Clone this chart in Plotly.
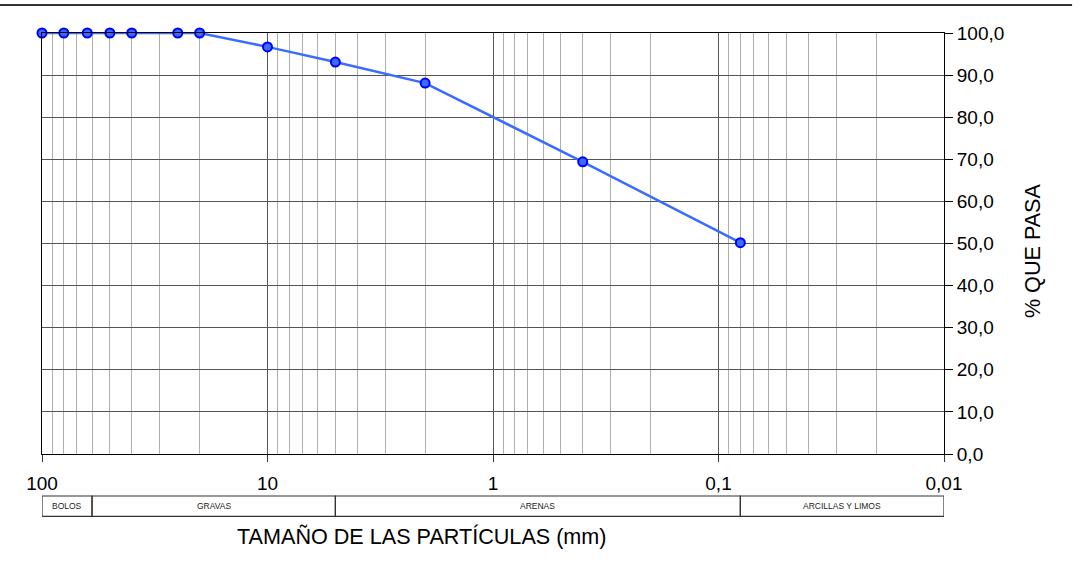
import plotly.graph_objects as go
import math

# Data
sizes_mm = [100, 80, 63, 50, 40, 25, 20, 10, 5, 2, 0.4, 0.08]
pct_passing = [100, 100, 100, 100, 100, 100, 100, 96.7, 93.1, 88.1, 69.4, 50.2]

x_tickvals = [100, 10, 1, 0.1, 0.01]
x_ticktext = ["100", "10", "1", "0,1", "0,01"]

class_bounds = [100, 60, 5, 0.08, 0.01]
class_names = ["BOLOS", "GRAVAS", "ARENAS", "ARCILLAS Y LIMOS"]

FONT = "Liberation Sans, Arial, sans-serif"
NARROW = "Liberation Sans Narrow, Arial Narrow, Liberation Sans, Arial, sans-serif"

fig = go.Figure()
fig.add_trace(go.Scatter(
    x=sizes_mm, y=pct_passing, mode="lines+markers",
    line=dict(color="#3a6cff", width=2.5),
    marker=dict(size=9, color="#3a6cff", line=dict(color="#0000ff", width=2)),
    cliponaxis=False, showlegend=False,
))

shapes = []
# top border line across the page
shapes.append(dict(type="line", xref="paper", yref="paper",
                   x0=-0.047, x1=1.142, y0=1.0665, y1=1.0665,
                   line=dict(color="#333333", width=2)))
# classification table
for i in range(len(class_names)):
    shapes.append(dict(type="rect", xref="x", yref="paper",
                       x0=class_bounds[i], x1=class_bounds[i + 1],
                       y0=-0.148, y1=-0.0998,
                       line=dict(color="#333333", width=1.2)))

annotations = []
for i, name in enumerate(class_names):
    xc = (math.log10(class_bounds[i]) + math.log10(class_bounds[i + 1])) / 2
    annotations.append(dict(x=xc, xref="x", y=-0.124, yref="paper",
                            xanchor="center", yanchor="middle",
                            text=name, showarrow=False,
                            font=dict(family=NARROW, size=8.5, color="#222222")))
annotations.append(dict(x=0.4213, xref="paper", y=-0.197, yref="paper",
                        xanchor="center", yanchor="middle",
                        text="TAMAÑO DE LAS PARTÍCULAS (mm)", showarrow=False,
                        font=dict(family=FONT, size=21.6, color="#000000")))
annotations.append(dict(x=1.0976, xref="paper", y=0.482, yref="paper",
                        xanchor="center", yanchor="middle",
                        text="% QUE PASA", textangle=-90, showarrow=False,
                        font=dict(family=FONT, size=21.6, color="#000000")))

fig.update_layout(
    width=1081, height=567,
    margin=dict(l=42, r=137, t=33, b=113),
    paper_bgcolor="white", plot_bgcolor="white",
    separators=",.",
    font=dict(family=FONT, size=19, color="#000000"),
    shapes=shapes, annotations=annotations,
    xaxis=dict(
        type="log", range=[2, -2],
        tickvals=x_tickvals, ticktext=x_ticktext,
        ticks="outside", ticklen=7, tickcolor="#333333",
        ticklabelstandoff=5,
        showline=True, linecolor="#000000", linewidth=1, mirror=True,
        showgrid=True, gridcolor="#555555", gridwidth=1,
        minor=dict(dtick="D1", showgrid=True, gridcolor="#b0b0b0", gridwidth=1, ticks=""),
        zeroline=False,
    ),
    yaxis=dict(
        side="right", range=[0, 100], dtick=10, tickformat=".1f",
        ticks="outside", ticklen=8, tickcolor="#000000",
        showline=True, linecolor="#000000", linewidth=1, mirror=True,
        showgrid=True, gridcolor="#555555", gridwidth=1,
        zeroline=False,
    ),
)

fig.write_html("out.html", config={"displayModeBar": False},
               post_script="document.body.style.margin='0';")
